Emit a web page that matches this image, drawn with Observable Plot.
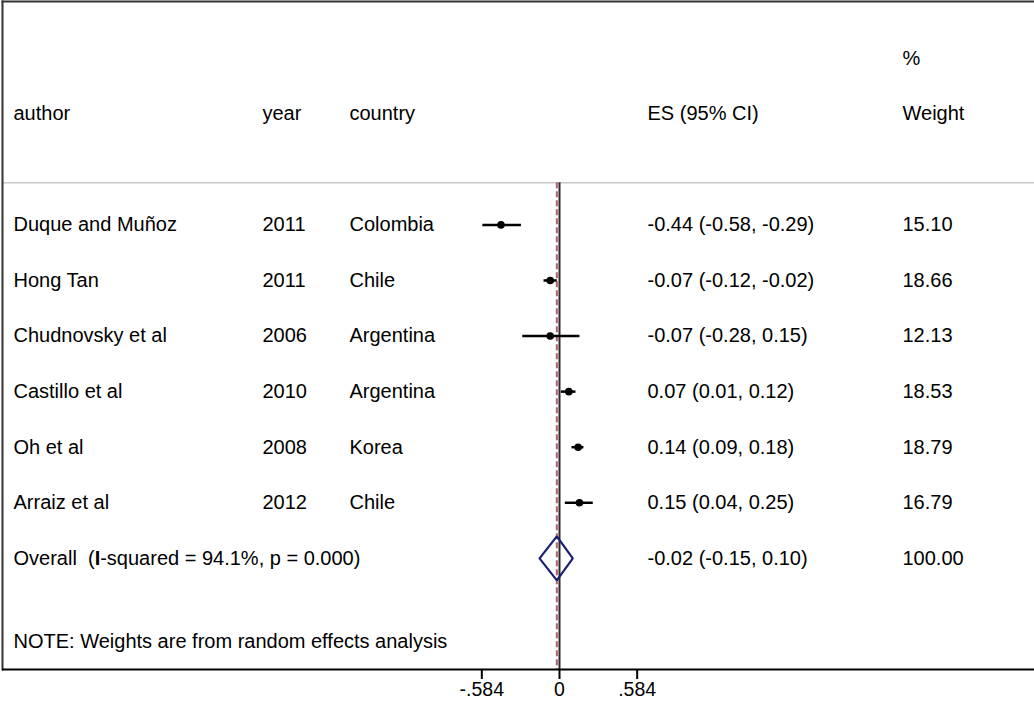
<!DOCTYPE html>
<html><head><meta charset="utf-8">
<script src="https://cdn.jsdelivr.net/npm/d3@7"></script>
<script src="https://cdn.jsdelivr.net/npm/@observablehq/plot@0.6"></script>
<style>
body{margin:0;background:#fff}
#chart svg{font-family:"Liberation Sans",Arial,Helvetica,sans-serif;white-space:pre;background:#fff}
#chart g[aria-label="x-axis tick label"], #chart g[aria-label="x-axis tick label"] text{font-size:19.5px !important}
</style>
</head><body><div id="chart"></div>
<script>
// ---- data ----
const authors = ["Duque and Muñoz","Hong Tan","Chudnovsky et al","Castillo et al","Oh et al","Arraiz et al"];
const years = [2011, 2011, 2006, 2010, 2008, 2012];
const countries = ["Colombia","Chile","Argentina","Argentina","Korea","Chile"];
const es = [-0.44, -0.07, -0.07, 0.07, 0.14, 0.15];
const lo = [-0.58, -0.12, -0.28, 0.01, 0.09, 0.04];
const hi = [-0.29, -0.02, 0.15, 0.12, 0.18, 0.25];
const weights = [15.10, 18.66, 12.13, 18.53, 18.79, 16.79];
const overallES = -0.02, overallLo = -0.15, overallHi = 0.10, overallWeight = 100.00;
const iSquared = "94.1%", pValue = "0.000";
const headers = ["author","year","country","ES (95% CI)","Weight"];
const note = "NOTE: Weights are from random effects analysis";
const tickValues = [-0.584, 0, 0.584];
const tickLabels = ["-.584", "0", ".584"];

// ---- layout (pixels) ----
const W = 1034, H = 706;
const colX = [11, 260, 347, 645, 900]; // column offsets from left margin
const sepRow = -0.76, headRow = -2, pctRow = -3, overallRow = authors.length, noteRow = authors.length + 1.5, axisRow = 8;

const fmt = v => v.toFixed(2);
const rows = authors.map((a, i) => ({
  i, author: a, year: String(years[i]), country: countries[i],
  es: es[i], lo: lo[i], hi: hi[i],
  ci: `${fmt(es[i])} (${fmt(lo[i])}, ${fmt(hi[i])})`,
  weight: fmt(weights[i])
}));
const hd = 0.396;
const diamond = [
  {x: overallLo, y: overallRow},
  {x: overallES, y: overallRow - hd},
  {x: overallHi, y: overallRow},
  {x: overallES, y: overallRow + hd},
  {x: overallLo, y: overallRow}
];
const headerData = headers.map((h, k) => ({h, k}));
const textOpts = {frameAnchor: "left", textAnchor: "start", fontSize: 20, fill: "black"};

const colTexts = [
  Plot.text(rows, {...textOpts, y: "i", text: "author", dx: colX[0]}),
  Plot.text(rows, {...textOpts, y: "i", text: "year", dx: colX[1]}),
  Plot.text(rows, {...textOpts, y: "i", text: "country", dx: colX[2]}),
  Plot.text(rows, {...textOpts, y: "i", text: "ci", dx: colX[3]}),
  Plot.text(rows, {...textOpts, y: "i", text: "weight", dx: colX[4]}),
  ...headerData.map(d => Plot.text([d], {...textOpts, y: () => headRow, text: "h", dx: colX[d.k]})),
  Plot.text(["%"], {...textOpts, y: () => pctRow, text: d => d, dx: colX[4]}),
  Plot.text([`Overall  (I-squared = ${iSquared}, p = ${pValue})`], {...textOpts, y: () => overallRow, text: d => d, dx: colX[0]}),
  Plot.text([`${fmt(overallES)} (${fmt(overallLo)}, ${fmt(overallHi)})`], {...textOpts, y: () => overallRow, text: d => d, dx: colX[3]}),
  Plot.text([fmt(overallWeight)], {...textOpts, y: () => overallRow, text: d => d, dx: colX[4]}),
  Plot.text([note], {...textOpts, y: () => noteRow, text: d => d, dx: colX[0]})
];

const x0 = 559, pxPerUnit = 133, mL = 2;
const chart = Plot.plot({
  width: W, height: H,
  marginLeft: mL, marginRight: 0, marginTop: 1, marginBottom: 37,
  style: {fontSize: "19px", color: "black"},
  x: {domain: [(mL - x0) / pxPerUnit, (W - x0) / pxPerUnit]},
  y: {domain: [-4.02, axisRow], range: [1, 669], axis: null},
  marks: [
    Plot.ruleY([sepRow], {stroke: "#c8c8c8", strokeWidth: 1.5}),
    Plot.ruleX([0], {y1: sepRow, y2: axisRow, stroke: "#2a2a2a", strokeWidth: 2}),
    Plot.ruleX([overallES], {y1: sepRow, y2: axisRow, stroke: "#b0606c", strokeWidth: 2, strokeDasharray: "6,3"}),
    Plot.link(rows, {x1: "lo", x2: "hi", y1: "i", y2: "i", stroke: "black", strokeWidth: 2.5}),
    Plot.dot(rows, {x: "es", y: "i", r: 3.8, fill: "black", stroke: "none"}),
    Plot.line(diamond, {x: "x", y: "y", stroke: "#1b1f74", strokeWidth: 2.2, strokeLinejoin: "miter"}),
    ...colTexts,
    Plot.frame({anchor: "left", stroke: "#333", strokeWidth: 2}),
    Plot.frame({anchor: "top", stroke: "#333", strokeWidth: 2}),
    Plot.ruleY([axisRow], {stroke: "black", strokeWidth: 2.2}),
    Plot.axisX({ticks: tickValues, tickFormat: d => tickLabels[tickValues.indexOf(d)], tickSize: 10, tickPadding: 3, fontSize: 20, strokeWidth: 2, label: null, anchor: "bottom", fill: "black", stroke: "black"})
  ]
});
document.getElementById("chart").appendChild(chart);
// bold the "I" in I-squared
d3.select(chart).selectAll("text").each(function() {
  const t = this.textContent;
  if (t.startsWith("Overall  (I-squared")) {
    const rest = t.slice("Overall  (I".length);
    const sel = d3.select(this);
    sel.text(null);
    sel.append("tspan").text("Overall  (");
    sel.append("tspan").attr("font-weight", "bold").text("I");
    sel.append("tspan").text(rest);
  }
});
</script>
</body></html>
